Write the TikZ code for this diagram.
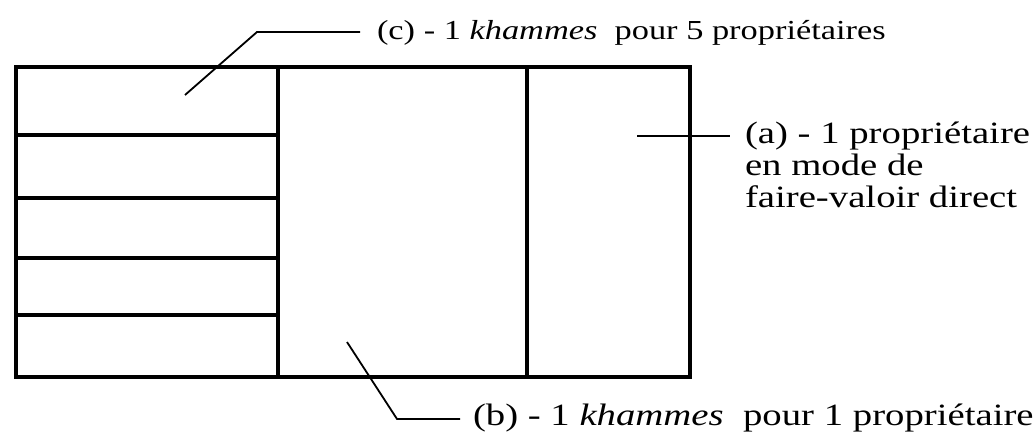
\documentclass[tikz,border=0pt]{standalone}
\usepackage{fontspec}
\setmainfont[FakeStretch=1.25]{Liberation Serif}
\usepackage{tikz}

\begin{document}
\begin{tikzpicture}[x=1pt,y=-1pt,
                    plot/.style={line width=4.5pt,line join=miter},
                    leader/.style={line width=1.8pt},
                    lbl/.style={anchor=west,inner sep=0pt,outer sep=0pt,align=left,font=\fontsize{31}{32}\selectfont}]
  \useasboundingbox (0,0) rectangle (1034,436);
  \coordinate (nw) at (16,67);
  \coordinate (se) at (690,377);
  \draw[plot] (nw) rectangle (se);
  \draw[plot] (278,67) -- (278,377);
  \draw[plot] (527,67) -- (527,377);
  \foreach \y in {135,198,258,315}
    \draw[plot,line width=4pt] (16,\y) -- (278,\y);

  \node[lbl,font=\fontsize{27.5}{30}\selectfont] (lc) at (377,33) {(c) - 1 \textit{khammes}\ \ pour 5 propriétaires};
  \node[lbl,anchor=north west] (la) at (745,122) {(a) - 1 propriétaire\\en mode de\\faire-valoir direct};
  \node[lbl] (lb) at (473,418) {(b) - 1 \textit{khammes}\ \ pour 1 propriétaire};

  \coordinate (pc) at (185,95);
  \coordinate (kc) at (257,32);
  \coordinate (pa) at (637,136);
  \coordinate (pb) at (347,342);
  \coordinate (kb) at (397,419);

  \draw[leader] (pc) -- (kc) -- ([xshift=-17pt]lc.west |- kc);
  \draw[leader] (pa) -- ([xshift=-15pt]la.west |- pa);
  \draw[leader] (pb) -- (kb) -- ([xshift=-13pt]lb.west |- kb);
\end{tikzpicture}
\end{document}
